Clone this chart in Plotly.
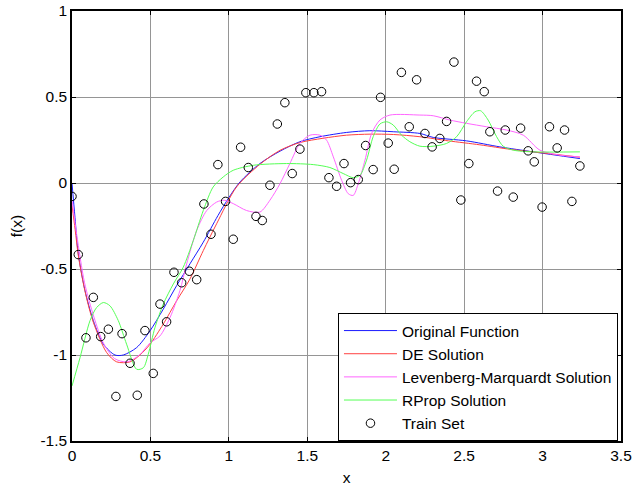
import plotly.graph_objects as go

# ---------------- data ----------------
train_x = [0, 0.04, 0.089, 0.136, 0.183, 0.232, 0.280, 0.319, 0.37, 0.416,
           0.465, 0.518, 0.561, 0.603, 0.650, 0.699, 0.748, 0.795, 0.841, 0.886,
           0.93, 0.979, 1.028, 1.075, 1.124, 1.173, 1.213, 1.262, 1.309, 1.357,
           1.404, 1.453, 1.491, 1.542, 1.591, 1.638, 1.687, 1.734, 1.776, 1.825,
           1.872, 1.920, 1.967, 2.016, 2.054, 2.10, 2.15, 2.197, 2.25, 2.296,
           2.345, 2.388, 2.435, 2.479, 2.530, 2.579, 2.628, 2.664, 2.713, 2.762,
           2.813, 2.860, 2.908, 2.947, 2.997, 3.044, 3.093, 3.140, 3.187, 3.238]
train_y = [-0.078, -0.416, -0.90, -0.665, -0.893, -0.85, -1.241, -0.876, -1.048, -1.234,
           -0.858, -1.107, -0.704, -0.807, -0.519, -0.58, -0.513, -0.562, -0.122, -0.298,
           0.107, -0.107, -0.327, 0.208, 0.09, -0.194, -0.218, -0.013, 0.343, 0.467,
           0.055, 0.197, 0.525, 0.525, 0.531, 0.031, -0.019, 0.113, 0.002, 0.02,
           0.218, 0.078, 0.498, 0.232, 0.08, 0.643, 0.327, 0.60, 0.288, 0.21,
           0.259, 0.358, 0.703, -0.099, 0.113, 0.592, 0.531, 0.298, -0.047, 0.308,
           -0.082, 0.319, 0.187, 0.123, -0.14, 0.327, 0.204, 0.308, -0.107, 0.099]

orig_x = [0, 0.019, 0.04, 0.083, 0.136, 0.2, 0.274, 0.327, 0.412, 0.497,
          0.582, 0.667, 0.752, 0.837, 0.93, 1.0, 1.071, 1.198, 1.326, 1.453,
          1.581, 1.751, 1.899, 2.048, 2.218, 2.303, 2.515, 2.728, 2.94, 3.238]
orig_y = [0.0, -0.2, -0.41, -0.626, -0.80, -0.937, -1.0, -1.0, -0.957, -0.86,
          -0.733, -0.597, -0.47, -0.344, -0.19, -0.085, 0.006, 0.113, 0.185, 0.24,
          0.269, 0.294, 0.304, 0.298, 0.288, 0.265, 0.245, 0.21, 0.181, 0.142]

de_x = [0, 0.02, 0.04, 0.083, 0.136, 0.221, 0.285, 0.37, 0.433, 0.497,
        0.582, 0.667, 0.752, 0.837, 0.922, 1.049, 1.2, 1.326, 1.453, 1.6,
        1.75, 1.9, 2.05, 2.218, 2.4, 2.6, 2.8, 3.0, 3.238]
de_y = [-0.13, -0.27, -0.42, -0.63, -0.81, -0.986, -1.04, -1.04, -1.0, -0.938,
        -0.82, -0.685, -0.558, -0.393, -0.237, -0.023, 0.11, 0.19, 0.235, 0.26,
        0.278, 0.284, 0.282, 0.269, 0.245, 0.222, 0.195, 0.175, 0.15]

lm_x = [0, 0.03, 0.08, 0.14, 0.2, 0.27, 0.35, 0.43, 0.497, 0.561,
        0.625, 0.688, 0.731, 0.795, 0.859, 0.922, 0.97, 1.028, 1.113, 1.198,
        1.262, 1.326, 1.389, 1.453, 1.517, 1.581, 1.623, 1.666, 1.719, 1.761,
        1.793, 1.825, 1.868, 1.91, 1.963, 2.027, 2.218, 2.303, 2.409, 2.515,
        2.643, 2.77, 2.877, 2.983, 3.11, 3.238]
lm_y = [-0.1, -0.3, -0.58, -0.78, -0.93, -1.02, -1.04, -1.0, -0.93, -0.889,
        -0.782, -0.626, -0.47, -0.276, -0.16, -0.111, -0.10, -0.12, -0.16, -0.169,
        -0.10, -0.004, 0.113, 0.23, 0.278, 0.278, 0.249, 0.152, 0.016, -0.062,
        -0.072, -0.004, 0.133, 0.288, 0.366, 0.395, 0.395, 0.391, 0.366, 0.347,
        0.327, 0.308, 0.278, 0.191, 0.162, 0.152]

rp_x = [0, 0.051, 0.115, 0.157, 0.2, 0.242, 0.295, 0.348, 0.412, 0.455,
        0.486, 0.529, 0.582, 0.646, 0.709, 0.773, 0.837, 0.9, 0.964, 1.028,
        1.156, 1.368, 1.538, 1.644, 1.729, 1.793, 1.836, 1.878, 1.92, 1.963,
        2.006, 2.048, 2.101, 2.154, 2.218, 2.303, 2.388, 2.452, 2.515, 2.569,
        2.605, 2.653, 2.707, 2.749, 2.813, 2.94, 3.238]
rp_y = [-1.18, -1.016, -0.80, -0.724, -0.695, -0.714, -0.80, -0.937, -1.083, -1.074,
        -0.996, -0.84, -0.704, -0.587, -0.49, -0.335, -0.16, -0.023, 0.035, 0.074,
        0.103, 0.113, 0.107, 0.09, 0.055, 0.031, 0.045, 0.133, 0.269, 0.343,
        0.356, 0.337, 0.278, 0.24, 0.214, 0.214, 0.23, 0.269, 0.356, 0.414,
        0.42, 0.366, 0.269, 0.214, 0.191, 0.181, 0.181]

x_ticks = [0, 0.5, 1, 1.5, 2, 2.5, 3, 3.5]
x_tick_labels = ["0", "0.5", "1", "1.5", "2", "2.5", "3", "3.5"]
y_ticks = [-1.5, -1, -0.5, 0, 0.5, 1]
y_tick_labels = ["-1.5", "-1", "-0.5", "0", "0.5", "1"]

# ---------------- figure ----------------
FONT = "Liberation Sans, Arial, sans-serif"
fig = go.Figure()

series = [
    ("Original Function", orig_x, orig_y, "#1a1aff"),
    ("DE Solution", de_x, de_y, "#ff4040"),
    ("Levenberg-Marquardt Solution", lm_x, lm_y, "#ff66ff"),
    ("RProp Solution", rp_x, rp_y, "#55ff55"),
]
for i, (name, xs, ys, col) in enumerate(series):
    fig.add_trace(go.Scatter(
        x=xs, y=ys, mode="lines", name=name, legendgroup=f"g{i}",
        line=dict(color=col, width=1, shape="spline", smoothing=0.8),
    ))

fig.add_trace(go.Scatter(
    x=train_x, y=train_y, mode="markers", name="Train Set", legendgroup="g9",
    marker=dict(symbol="circle-open", size=8.5, color="black", line=dict(width=1, color="black")),
))

axis_common = dict(
    showline=True, linecolor="black", linewidth=1.5, mirror="ticks",
    ticks="inside", ticklen=4, tickcolor="black",
    showgrid=True, gridcolor="#959595", gridwidth=1,
    zeroline=False, automargin=False,
    tickfont=dict(family=FONT, size=15.5, color="black"),
)

fig.update_layout(
    width=634, height=488,
    margin=dict(l=72, r=13, t=11, b=47, autoexpand=False),
    paper_bgcolor="white", plot_bgcolor="white",
    font=dict(family=FONT, size=15.5, color="black"),
    xaxis=dict(range=[0, 3.5], tickvals=x_ticks, ticktext=x_tick_labels,
               title=dict(text="x", font=dict(family=FONT, size=15.5), standoff=9),
               **axis_common),
    yaxis=dict(range=[-1.5, 1], tickvals=y_ticks, ticktext=y_tick_labels,
               title=dict(text="f(x)", font=dict(family=FONT, size=15.5), standoff=14),
               **axis_common),
    legend=dict(
        x=0.9945, y=0, xanchor="right", yanchor="bottom",
        bgcolor="white", bordercolor="black", borderwidth=1,
        font=dict(family=FONT, size=15.5, color="black"),
        tracegroupgap=0, itemwidth=53,
        entrywidth=228, entrywidthmode="pixels",
    ),
    showlegend=True,
)

fig.write_html(
    "out.html",
    config={"displayModeBar": False},
    post_script="document.body.style.margin='0';document.body.style.overflow='hidden';",
)
